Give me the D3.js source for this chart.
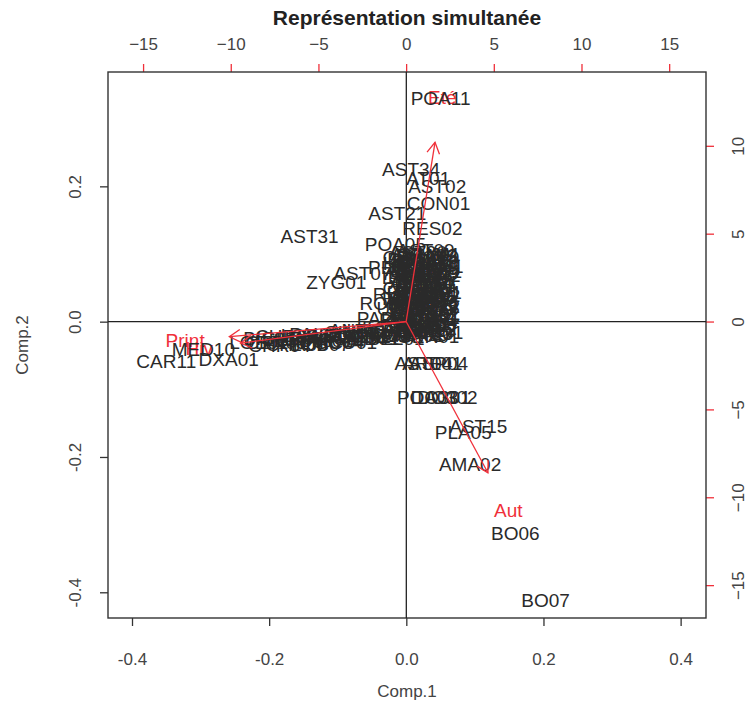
<!DOCTYPE html>
<html>
<head>
<meta charset="utf-8">
<script src="https://cdn.jsdelivr.net/npm/d3@7"></script>
<style>
  body { margin: 0; background: #fff; }
  text { font-family: "Liberation Sans", Arial, sans-serif; }
</style>
</head>
<body>
<svg id="chart" width="747" height="708"></svg>
<script>
// observations (Comp.1, Comp.2)
const obsNames = [
  'POA11', 'AST34', 'AT01', 'AST02', 'CON01', 'AST21', 'AST31', 'RES02', 'POA05',
  'ZYG01', 'AST07', 'PER01', 'ROS01', 'PAP03',
  'AST09', 'POA02', 'RES01', 'BRA01', 'CEN02', 'AST05', 'ERO01', 'FAB03', 'LAM01',
  'POA07', 'AST12', 'SIL01', 'CHE02', 'PLA02', 'AST18', 'MAL02', 'FAB07', 'CAR03',
  'BRA04', 'AST22', 'POA09', 'LIL01', 'CRU02', 'AST25', 'SCR01', 'RUB01', 'FAB11',
  'AST27', 'CIS01', 'POA13', 'ONO01', 'AST29', 'GER01', 'RUM01', 'URT01', 'API01',
  'ACH01', 'AST10', 'HOR01', 'POA04', 'BRO01', 'MED02', 'TRI01', 'AST14', 'VER01',
  'FAB05', 'POA06', 'ANA01', 'AST16', 'SIN02', 'CRE01', 'AST19', 'HYP01', 'CAR05',
  'POA08', 'LIN01', 'AST23', 'EMX01', 'FUM01', 'GAL01', 'ALY01',
  'AST30', 'POA10', 'BRA02', 'CEN03', 'ERO02', 'FAB09', 'LAM02', 'SIL02', 'CHE03',
  'AST26', 'POA12', 'CIS02', 'TRI02', 'MED04', 'ARM01', 'VIC01', 'AST32', 'ORN01',
  'MED10', 'LOB01', 'CHR00', 'CHR02', 'LOB03', 'PAP01', 'KIC07', 'SIN01', 'CAL02',
  'HEL01', 'DIP01', 'ECH01', 'EUP03', 'BIS01', 'CHR04', 'LOB05', 'PAL01', 'KIC02',
  'SCO01', 'ANT01', 'HED01', 'ECH03', 'BEL01', 'CHR05', 'LOB07', 'KIC04', 'SCO02',
  'ANT03', 'CEN05',
  'CAR11', 'DXA01',
  'AST04', 'ARE01', 'ASP04', 'POA03', 'DO301', 'DO302',
  'PLA05', 'AST15', 'AMA02', 'BO06', 'BO07'
];
const obsX = [
  0.050, 0.007, 0.032, 0.045, 0.047, -0.013, -0.141, 0.038, -0.016,
  -0.102, -0.064, -0.012, -0.023, -0.030,
  0.028, 0.030, 0.016, 0.034, 0.022, 0.012, 0.036, 0.026, 0.008,
  0.031, 0.018, 0.036, 0.010, 0.027, 0.021, 0.035, 0.006, 0.030,
  0.016, 0.036, 0.024, 0.009, 0.033, 0.018, 0.030, 0.005, 0.024,
  0.036, 0.013, 0.028, 0.036, 0.020, 0.032, -0.002, 0.000, 0.004,
  0.022, 0.035, 0.012, 0.028, 0.019, 0.033, 0.015, 0.025, 0.033,
  0.013, 0.029, 0.019, 0.034, 0.012, 0.027, 0.020, 0.034, 0.014,
  0.029, 0.019, 0.026, 0.010, 0.038, 0.038, 0.038,
  0.017, 0.032, 0.024, 0.010, 0.022, 0.035, 0.017, 0.024, 0.031,
  0.011, 0.022, 0.035, 0.016, 0.025, 0.030, 0.015, 0.021, 0.033,
  -0.296, -0.215, -0.160, -0.175, -0.140, -0.120, -0.095, -0.080, -0.065,
  -0.045, -0.035, -0.020, -0.012, -0.200, -0.185, -0.150, -0.130, -0.108,
  -0.088, -0.070, -0.055, -0.028, -0.015, -0.165, -0.125, -0.100, -0.075,
  -0.050, -0.190,
  -0.350, -0.259,
  0.025, 0.038, 0.047, 0.031, 0.050, 0.060,
  0.083, 0.105, 0.093, 0.159, 0.203
];
const obsY = [
  0.331, 0.226, 0.212, 0.200, 0.175, 0.161, 0.126, 0.138, 0.115,
  0.059, 0.072, 0.081, 0.028, 0.005,
  0.105, 0.098, 0.092, 0.088, 0.083, 0.078, 0.075, 0.070, 0.066,
  0.063, 0.058, 0.054, 0.050, 0.047, 0.042, 0.039, 0.035, 0.031,
  0.027, 0.023, 0.019, 0.015, 0.012, 0.008, 0.004, 0.002, -0.002,
  -0.005, -0.008, -0.012, -0.016, -0.019, -0.022, 0.040, 0.020, -0.010,
  0.100, 0.095, 0.086, 0.080, 0.073, 0.068, 0.061, 0.055, 0.047,
  0.044, 0.037, 0.033, 0.028, 0.024, 0.020, 0.012, 0.006, 0.001,
  -0.004, -0.012, -0.017, -0.020, 0.082, 0.044, 0.010,
  0.103, 0.090, 0.091, 0.096, 0.076, 0.071, 0.067, 0.050, 0.025,
  0.030, 0.005, -0.010, -0.005, 0.036, 0.058, 0.052, 0.026, 0.100,
  -0.040, -0.030, -0.033, -0.022, -0.020, -0.028, -0.025, -0.015, -0.022,
  -0.012, -0.020, -0.008, -0.016, -0.025, -0.035, -0.028, -0.018, -0.020,
  -0.030, -0.012, -0.025, -0.012, -0.025, -0.024, -0.033, -0.030, -0.022,
  -0.018, -0.030,
  -0.059, -0.055,
  -0.061, -0.061, -0.061, -0.112, -0.112, -0.112,
  -0.163, -0.155, -0.210, -0.312, -0.411
];

// variables (secondary axes)
const varNames = ['Eté', 'Print', 'Hiv', 'Aut'];
const varX = [2.06, -12.6, -11.8, 5.83];
const varY = [12.75, -1.08, -1.54, -10.76];

const xTicks = [-0.4, -0.2, 0, 0.2, 0.4];
const yTicks = [-0.4, -0.2, 0, 0.2];
const x2Ticks = [-15, -10, -5, 0, 5, 10, 15];
const y2Ticks = [-15, -10, -5, 0, 5, 10];

const box = { left: 108, right: 706, top: 72, bottom: 618 };
const red = '#f0303a';
const ink = '#2a2a2a';

const svg = d3.select('#chart');

const x = d3.scaleLinear().domain([-0.435, 0.437]).range([box.left, box.right]);
const y = d3.scaleLinear().domain([-0.438, 0.369]).range([box.bottom, box.top]);
const x2 = d3.scaleLinear().domain([-17.0, 17.1]).range([box.left, box.right]);
const y2 = d3.scaleLinear().domain([-16.87, 14.2]).range([box.bottom, box.top]);

// title
svg.append('text')
  .attr('x', (box.left + box.right) / 2)
  .attr('y', 25)
  .attr('text-anchor', 'middle')
  .attr('font-size', 21)
  .attr('font-weight', 'bold')
  .attr('fill', '#222')
  .text('Représentation simultanée');

// axes
function styleAxis(g, tickColor) {
  g.select('.domain').remove();
  g.selectAll('.tick line').attr('stroke', tickColor).attr('stroke-width', 1.3);
  g.selectAll('.tick text')
    .attr('fill', '#444')
    .attr('font-size', 17)
    .attr('font-family', '"Liberation Sans", Arial, sans-serif');
}

const fmt1 = d => d.toFixed(1);

svg.append('g')
  .attr('transform', `translate(0,${box.bottom})`)
  .call(d3.axisBottom(x).tickValues(xTicks).tickSize(8).tickPadding(27).tickFormat(fmt1))
  .call(g => styleAxis(g, '#333'));

svg.append('g')
  .attr('transform', `translate(${box.left},0)`)
  .call(d3.axisLeft(y).tickValues(yTicks).tickSize(8).tickFormat(fmt1))
  .call(g => styleAxis(g, '#333'))
  .call(g => g.selectAll('.tick text')
    .attr('x', 0).attr('dy', null)
    .attr('text-anchor', 'middle')
    .attr('transform', 'translate(-27,0) rotate(-90)'));

svg.append('g')
  .attr('transform', `translate(0,${box.top})`)
  .call(d3.axisTop(x2).tickValues(x2Ticks).tickSize(8).tickPadding(14))
  .call(g => styleAxis(g, red));

svg.append('g')
  .attr('transform', `translate(${box.right},0)`)
  .call(d3.axisRight(y2).tickValues(y2Ticks).tickSize(8))
  .call(g => styleAxis(g, red))
  .call(g => g.selectAll('.tick text')
    .attr('x', 0).attr('dy', null)
    .attr('text-anchor', 'middle')
    .attr('transform', 'translate(38,0) rotate(-90)'));

// axis titles
svg.append('text')
  .attr('x', (box.left + box.right) / 2)
  .attr('y', 697)
  .attr('text-anchor', 'middle')
  .attr('font-size', 17)
  .attr('fill', '#444')
  .text('Comp.1');

svg.append('text')
  .attr('transform', `translate(28,${(box.top + box.bottom) / 2}) rotate(-90)`)
  .attr('text-anchor', 'middle')
  .attr('font-size', 17)
  .attr('fill', '#444')
  .text('Comp.2');

// frame and zero lines
svg.append('rect')
  .attr('x', box.left).attr('y', box.top)
  .attr('width', box.right - box.left).attr('height', box.bottom - box.top)
  .attr('fill', 'none').attr('stroke', '#333').attr('stroke-width', 1.4);

svg.append('line')
  .attr('x1', box.left).attr('x2', box.right)
  .attr('y1', y(0)).attr('y2', y(0))
  .attr('stroke', '#222').attr('stroke-width', 1.3);

svg.append('line')
  .attr('x1', x(0)).attr('x2', x(0))
  .attr('y1', box.top).attr('y2', box.bottom)
  .attr('stroke', '#222').attr('stroke-width', 1.3);

// variable labels sit under the observation labels, as in the reference
const vars = varNames.map((n, i) => ({ name: n, x: varX[i], y: varY[i] }));

svg.append('g')
  .selectAll('text')
  .data(vars)
  .enter()
  .append('text')
  .attr('x', d => x2(d.x))
  .attr('y', d => y2(d.y))
  .attr('dy', '0.36em')
  .attr('text-anchor', 'middle')
  .attr('font-size', 19)
  .attr('fill', red)
  .text(d => d.name);

// observation labels
const obs = obsNames.map((n, i) => ({ name: n, x: obsX[i], y: obsY[i] }));

svg.append('g')
  .selectAll('text')
  .data(obs)
  .enter()
  .append('text')
  .attr('x', d => x(d.x))
  .attr('y', d => y(d.y))
  .attr('dy', '0.36em')
  .attr('text-anchor', 'middle')
  .attr('font-size', 19)
  .attr('fill', ink)
  .text(d => d.name);

// variable arrows (drawn to 0.8 of label position, as biplot does)
svg.append('defs').append('marker')
  .attr('id', 'head')
  .attr('viewBox', '-13 -8 15 16')
  .attr('refX', 0).attr('refY', 0)
  .attr('markerWidth', 15).attr('markerHeight', 16)
  .attr('markerUnits', 'userSpaceOnUse')
  .attr('orient', 'auto')
  .append('path')
  .attr('d', 'M-11,-6.3L0,0L-11,6.3')
  .attr('fill', 'none')
  .attr('stroke', red)
  .attr('stroke-width', 1.3);

svg.append('g')
  .selectAll('line')
  .data(vars)
  .enter()
  .append('line')
  .attr('x1', x2(0)).attr('y1', y2(0))
  .attr('x2', d => x2(d.x * 0.8))
  .attr('y2', d => y2(d.y * 0.8))
  .attr('stroke', red)
  .attr('stroke-width', 1.3)
  .attr('marker-end', 'url(#head)');
</script>
</body>
</html>
